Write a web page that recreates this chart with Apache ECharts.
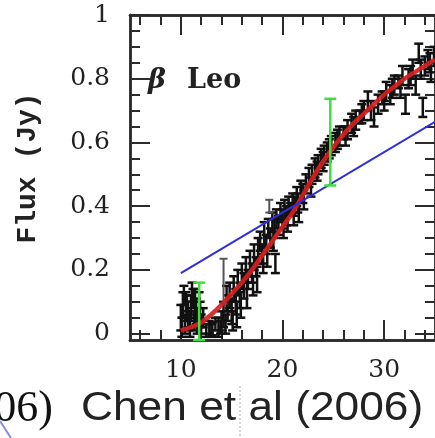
<!DOCTYPE html>
<html>
<head>
<meta charset="utf-8">
<script src="https://cdn.jsdelivr.net/npm/echarts@6/dist/echarts.min.js"></script>
<style>html,body{margin:0;padding:0;background:#fff;}#c{width:435px;height:438px;}</style>
</head>
<body>
<div id="c"></div>
<script>
// ---- tick positions ----
const xTicksMajor = [10, 20, 30];
const xTicksMinor = [6, 8, 12, 14, 16, 18, 22, 24, 26, 28, 32, 34];
const yTicksMajor = [0, 0.2, 0.4, 0.6, 0.8, 1];
const yTicksMinor = [0.05, 0.1, 0.15, 0.25, 0.3, 0.35, 0.45, 0.5, 0.55, 0.65, 0.7, 0.75, 0.85, 0.9, 0.95];

// ---- observed fluxes (black error bars) ----
const obsX = [10.0,10.2,10.4,10.5,10.7,10.9,11.0,11.2,11.3,11.5,11.6,11.8,12.0,12.2,12.5,12.8,13.1,13.4,13.7,14.0,
  14.2,14.4,14.6,14.8,15.0,15.2,15.4,15.6,15.8,16.0,16.2,16.4,16.6,16.8,17.0,17.2,17.4,17.6,17.8,18.0,
  18.2,18.4,18.6,18.8,19.0,19.2,19.3,19.4,19.6,19.8,20.0,20.2,20.4,20.6,20.8,21.0,21.2,21.4,21.6,21.8,
  22.0,22.3,22.6,22.9,23.2,23.5,23.8,24.1,24.4,24.8,25.2,25.6,26.0,26.4,26.8,27.2,27.6,28.0,28.4,29.0,
  29.4,29.8,30.2,30.6,31.0,31.4,31.8,32.1,32.4,32.8,33.1,33.4,33.8,34.0,34.3,34.6,34.9,
  10.1,10.3,10.6,10.8,11.1,11.4,11.7,11.9,13.0,13.9,14.5,15.1,15.5,15.9,16.5,17.1,17.5,18.1,18.5,19.1,
  20.1,20.5,21.1,21.5,22.1,22.8,23.4,24.0,24.6,25.4,26.2,27.0,27.8,28.7,30.0,30.8,31.6,32.6,33.6,34.5];
const obsY = [0.05,0.09,0.03,0.10,0.06,0.02,0.08,0.11,0.04,0.07,0.02,0.09,0.03,0.05,0.01,0.02,0.015,0.03,0.02,0.04,
  0.06,0.03,0.08,0.12,0.07,0.14,0.10,0.16,0.12,0.18,0.15,0.20,0.17,0.22,0.19,0.24,0.21,0.26,0.29,0.25,
  0.31,0.28,0.33,0.30,0.35,0.33,0.22,0.36,0.34,0.38,0.36,0.39,0.37,0.40,0.39,0.41,0.40,0.43,0.38,0.45,
  0.44,0.47,0.49,0.50,0.52,0.53,0.55,0.56,0.57,0.59,0.60,0.62,0.63,0.64,0.66,0.67,0.68,0.70,0.73,0.68,
  0.72,0.74,0.76,0.75,0.78,0.79,0.81,0.72,0.80,0.83,0.78,0.88,0.71,0.84,0.86,0.82,0.87,
  0.02,0.12,0.08,0.04,0.13,0.10,0.05,0.06,0.01,0.02,0.11,0.04,0.06,0.09,0.12,0.15,0.17,0.22,0.24,0.29,
  0.33,0.35,0.37,0.41,0.42,0.46,0.51,0.54,0.58,0.61,0.62,0.65,0.69,0.70,0.73,0.77,0.77,0.81,0.83,0.85];
const obsErr = [0.04,0.04,0.03,0.03,0.04,0.03,0.04,0.03,0.03,0.04,0.02,0.04,0.03,0.03,0.02,0.02,0.02,0.02,0.03,0.03,
  0.04,0.03,0.04,0.04,0.04,0.04,0.04,0.04,0.04,0.04,0.04,0.04,0.03,0.04,0.03,0.04,0.03,0.04,0.03,0.03,
  0.04,0.03,0.03,0.03,0.03,0.03,0.03,0.03,0.03,0.03,0.03,0.03,0.03,0.03,0.02,0.03,0.03,0.03,0.03,0.03,
  0.03,0.03,0.03,0.03,0.03,0.03,0.03,0.03,0.03,0.03,0.03,0.03,0.02,0.03,0.03,0.03,0.02,0.03,0.03,0.03,
  0.03,0.02,0.03,0.03,0.03,0.02,0.03,0.03,0.03,0.03,0.03,0.03,0.03,0.03,0.03,0.03,0.03,
  0.03,0.03,0.04,0.03,0.03,0.04,0.03,0.04,0.02,0.02,0.04,0.03,0.04,0.04,0.04,0.03,0.04,0.03,0.03,0.03,
  0.03,0.03,0.03,0.03,0.03,0.03,0.03,0.03,0.03,0.03,0.03,0.03,0.03,0.03,0.03,0.03,0.03,0.03,0.03,0.03];

// ---- grey outlying bars ----
const greyX = [14.2, 18.7];
const greyLow = [0.094, 0.38];
const greyHigh = [0.235, 0.42];

// ---- green bars ----
const greenX = [11.8, 24.7];
const greenLow = [-0.02, 0.465];
const greenHigh = [0.16, 0.737];

// ---- red fitted curve ----
const fitX = [10,11,12,13,14,15,16,17,18,19,20,21,22,23,24,25,26,27,28,29,30,31,32,33,34,35];
const fitY = [0.01,0.02,0.035,0.06,0.09,0.125,0.16,0.20,0.245,0.29,0.335,0.38,0.435,0.49,0.54,0.585,0.625,0.66,0.69,0.72,0.75,0.775,0.80,0.82,0.84,0.86];

// ---- blue straight line ----
const linX = [10, 35];
const linY = [0.19, 0.665];

const AX = '#2b2b2b';
function barRender(color, capW, lw) {
  return function (params, api) {
    const x = api.value(0), lo = api.value(1), hi = api.value(2);
    const a = api.coord([x, lo]), b = api.coord([x, hi]);
    const st = { stroke: color, lineWidth: lw };
    return { type: 'group', children: [
      { type: 'line', shape: { x1: a[0], y1: a[1], x2: b[0], y2: b[1] }, style: st },
      { type: 'line', shape: { x1: a[0] - capW / 2, y1: a[1], x2: a[0] + capW / 2, y2: a[1] }, style: st },
      { type: 'line', shape: { x1: b[0] - capW / 2, y1: b[1], x2: b[0] + capW / 2, y2: b[1] }, style: st }
    ]};
  };
}

function xAx(pos, vals, len, labels) {
  return { type: 'value', min: 5, max: 35, position: pos,
    axisLine: { show: true, onZero: false, lineStyle: { color: AX, width: 2.5 } },
    splitLine: { show: false },
    axisTick: { show: true, inside: true, length: len, customValues: vals, lineStyle: { color: AX, width: 2 } },
    axisLabel: labels ? { show: true, customValues: vals, margin: 18, color: '#222', fontFamily: 'DejaVu Serif', fontSize: 25 } : { show: false } };
}
function yAx(pos, vals, len, labels) {
  return { type: 'value', min: -0.02, max: 1, position: pos,
    axisLine: { show: true, onZero: false, lineStyle: { color: AX, width: 2.5 } },
    splitLine: { show: false },
    axisTick: { show: true, inside: true, length: len, customValues: vals, lineStyle: { color: AX, width: 2 } },
    axisLabel: labels ? { show: true, customValues: vals, margin: 20, color: '#222', fontFamily: 'DejaVu Serif', fontSize: 25,
      formatter: v => String(+v.toFixed(2)) } : { show: false } };
}

const chart = echarts.init(document.getElementById('c'), null, { renderer: 'canvas' });
chart.setOption({
  animation: false,
  backgroundColor: '#fff',
  grid: { left: 130, right: -5, top: 15, bottom: 98, containLabel: false },
  xAxis: [
    xAx('bottom', xTicksMajor, 20, true),
    xAx('bottom', xTicksMinor, 10, false),
    xAx('top', xTicksMajor, 20, false),
    xAx('top', xTicksMinor, 10, false)
  ],
  yAxis: [
    yAx('left', yTicksMajor, 20, true),
    yAx('left', yTicksMinor, 10, false),
    yAx('right', yTicksMajor, 20, false),
    yAx('right', yTicksMinor, 10, false)
  ],
  series: [
    { type: 'custom', renderItem: barRender('#111', 9, 2.5), encode: { x: 0, y: [1, 2] }, z: 2,
      data: obsX.map((x, i) => [x, obsY[i] - obsErr[i], obsY[i] + obsErr[i]]) },
    { type: 'custom', renderItem: barRender('#555', 8, 2), encode: { x: 0, y: [1, 2] }, z: 2,
      data: greyX.map((x, i) => [x, greyLow[i], greyHigh[i]]) },
    { type: 'line', data: fitX.map((x, i) => [x, fitY[i]]), smooth: 0.4, showSymbol: false, z: 3,
      lineStyle: { color: 'rgba(214,30,30,0.92)', width: 4.5 } },
    { type: 'line', data: linX.map((x, i) => [x, linY[i]]), showSymbol: false, z: 4,
      lineStyle: { color: '#2f2fd6', width: 2 } },
    { type: 'custom', renderItem: barRender('#3ee03e', 12, 2.5), encode: { x: 0, y: [1, 2] }, z: 5,
      data: greenX.map((x, i) => [x, greenLow[i], greenHigh[i]]) }
  ],
  graphic: [
    { type: 'text', x: 28, y: 168, rotation: Math.PI / 2, z: 10,
      style: { text: 'Flux (Jy)', font: 'bold 28px "Liberation Mono"', fill: '#222', align: 'center', verticalAlign: 'middle' } },
    { type: 'text', x: 148, y: 81, z: 10,
      style: { text: 'β', font: 'italic bold 27px "DejaVu Serif"', fill: '#222', align: 'left', verticalAlign: 'middle' } },
    { type: 'text', x: 187, y: 81, z: 10,
      style: { text: 'Leo', font: 'bold 27px "DejaVu Serif"', fill: '#222', align: 'left', verticalAlign: 'middle' } },
    { type: 'text', x: 81, y: 409, scaleX: 1.08, z: 10,
      style: { text: 'Chen et al (2006)', font: '41px "Liberation Sans"', fill: '#222', align: 'left', verticalAlign: 'middle' } },
    { type: 'text', x: 53, y: 409, z: 10,
      style: { text: '06)', font: '44px "Liberation Serif"', fill: '#111', align: 'right', verticalAlign: 'middle' } },
    { type: 'line', z: 10, shape: { x1: 240, y1: 386, x2: 240, y2: 438 }, style: { stroke: '#aaa', lineWidth: 1, lineDash: [2, 2] } },
    { type: 'line', z: 10, shape: { x1: 0, y1: 421, x2: 11, y2: 438 }, style: { stroke: '#8a8ae0', lineWidth: 2 } }
  ]
});
</script>
</body>
</html>
